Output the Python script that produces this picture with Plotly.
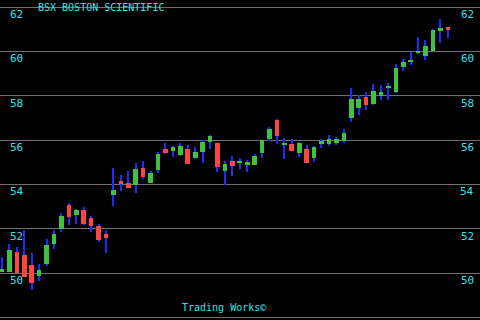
import plotly.graph_objects as go

opens = [50.06, 50.06, 50.95, 50.81, 50.36, 49.88, 50.41, 51.31, 51.99, 53.07,
         52.62, 52.84, 52.48, 52.14, 51.74, 53.52, 54.15, 54.06, 53.97, 54.74,
         54.06, 54.65, 55.60, 55.50, 55.32, 55.60, 55.19, 55.46, 55.91, 55.87,
         54.60, 55.05, 54.96, 54.87, 54.87, 55.41, 56.05, 56.90, 55.78, 55.82,
         55.41, 55.60, 55.19, 55.82, 55.82, 55.87, 55.96, 57.00, 57.44, 57.94,
         57.62, 57.99, 58.39, 58.17, 59.29, 59.56, 59.93, 59.79, 60.02, 60.92,
         61.10]
highs = [50.74, 51.31, 51.17, 51.96, 50.90, 50.41, 51.54, 51.92, 52.69, 53.16,
         52.89, 52.98, 52.57, 52.21, 51.96, 54.74, 54.42, 54.60, 54.96, 55.05,
         54.60, 55.45, 55.87, 55.73, 55.87, 55.78, 55.69, 56.00, 56.23, 55.87,
         55.05, 55.28, 55.19, 55.10, 55.37, 56.00, 56.59, 56.95, 56.09, 56.05,
         55.91, 55.78, 55.73, 56.05, 56.23, 56.14, 56.50, 58.35, 58.03, 58.17,
         58.53, 58.48, 58.57, 59.43, 59.65, 59.97, 60.65, 60.51, 61.01, 61.46,
         61.10]
lows = [50.04, 50.04, 50.00, 49.84, 49.24, 49.65, 50.33, 51.08, 51.85, 52.17,
        52.21, 52.15, 51.83, 51.40, 50.90, 53.02, 53.70, 53.84, 53.61, 54.24,
        54.06, 54.51, 55.37, 55.23, 55.28, 54.90, 55.14, 54.96, 55.60, 54.56,
        53.97, 54.38, 54.69, 54.56, 54.87, 55.19, 55.96, 55.82, 55.14, 55.50,
        55.23, 54.96, 55.01, 55.64, 55.73, 55.78, 55.87, 56.81, 57.13, 57.35,
        57.60, 57.80, 57.80, 58.12, 59.11, 59.38, 59.88, 59.61, 60.00, 60.38,
        60.60]
closes = [50.20, 51.04, 50.02, 49.84, 49.56, 50.14, 51.26, 51.74, 52.57, 52.53,
          52.84, 52.19, 52.14, 51.47, 51.60, 53.75, 54.03, 53.84, 54.69, 54.33,
          54.51, 55.37, 55.41, 55.68, 55.73, 54.92, 55.46, 55.91, 56.18, 54.78,
          54.92, 54.83, 55.05, 55.01, 55.28, 56.00, 56.50, 56.18, 55.87, 55.50,
          55.87, 54.96, 55.69, 55.96, 56.05, 56.05, 56.32, 57.85, 57.85, 57.58,
          58.21, 58.17, 58.44, 59.25, 59.52, 59.61, 59.97, 60.24, 60.96, 61.05,
          60.96]
tick_values = [48, 50, 52, 54, 56, 58, 60, 62]
title_text = "BSX BOSTON SCIENTIFIC"
footer_text = "Trading Works©"

GREEN = "#3fc23f"
RED = "#ff4444"
BLUE = "#1a2cff"
CYAN = "#33e3ee"
GRID = "#707070"
FONT = "DejaVu Sans Mono"

x = list(range(len(opens)))
body_base = [min(o, c) for o, c in zip(opens, closes)]
body_h = [max(abs(c - o), 0.05) for o, c in zip(opens, closes)]
body_col = [GREEN if c >= o else RED for o, c in zip(opens, closes)]

fig = go.Figure()
fig.add_trace(go.Bar(x=x, y=[h - l for h, l in zip(highs, lows)], base=lows,
                     width=0.15, marker=dict(color=BLUE, line=dict(width=0)),
                     hoverinfo="skip"))
fig.add_trace(go.Bar(x=x, y=body_h, base=body_base, width=0.62,
                     marker=dict(color=body_col, line=dict(width=0)),
                     hoverinfo="skip"))

annotations = []
for v in tick_values:
    for xp, anchor in ((8 / 480, "left"), (476 / 480, "right")):
        annotations.append(dict(x=xp, xref="paper", y=v, yref="y", text=str(v),
                                showarrow=False, xanchor=anchor, yanchor="top",
                                yshift=1,
                                font=dict(family=FONT, size=11, color=CYAN)))
annotations.append(dict(x=36 / 480, xref="paper", y=1, yref="paper", text=title_text,
                        showarrow=False, xanchor="left", yanchor="top",
                        font=dict(family=FONT, size=10, color=CYAN)))
annotations.append(dict(x=224 / 480, xref="paper", y=1 - 300 / 320, yref="paper",
                        text=footer_text, showarrow=False, xanchor="center",
                        yanchor="top", font=dict(family=FONT, size=10, color=CYAN)))

fig.update_layout(
    width=480, height=320, margin=dict(l=0, r=0, t=0, b=0),
    paper_bgcolor="black", plot_bgcolor="black", showlegend=False,
    barmode="overlay", bargap=0,
    xaxis=dict(range=[-0.27, 64.33], visible=False, fixedrange=True),
    yaxis=dict(range=[47.88, 62.316], tickvals=tick_values, showticklabels=False,
               showgrid=True, gridcolor=GRID, gridwidth=1, zeroline=False,
               fixedrange=True),
    annotations=annotations,
)

fig.write_html("out.html", config={"displayModeBar": False})
